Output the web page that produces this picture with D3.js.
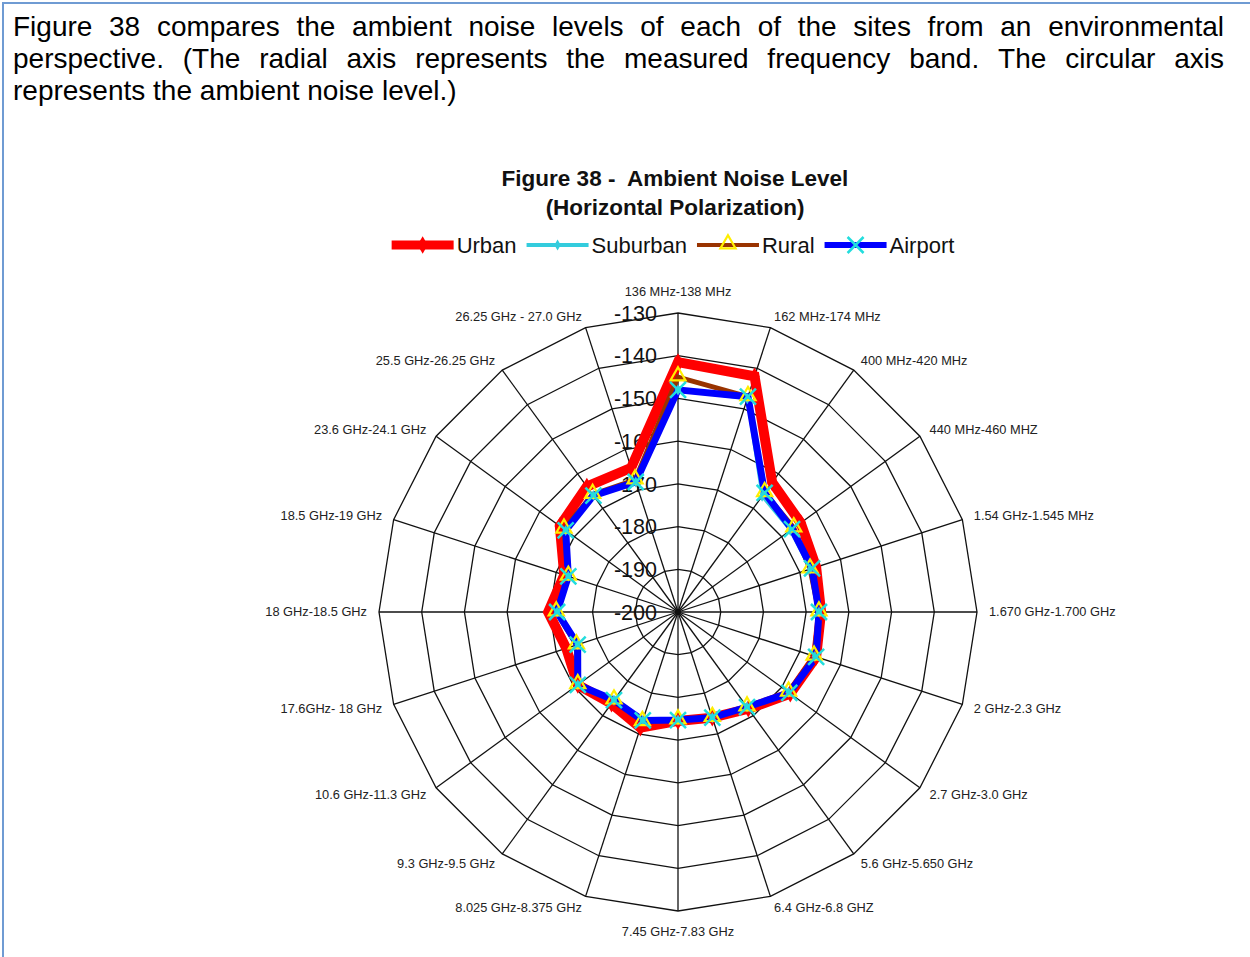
<!DOCTYPE html>
<html>
<head>
<meta charset="utf-8">
<script src="https://cdn.jsdelivr.net/npm/d3@7"></script>
<style>
  body { margin: 0; background: #fff; }
  svg { display: block; font-family: "Liberation Sans", Arial, sans-serif; }
</style>
</head>
<body>
<div id="chart"></div>
<script>
// frequency bands, clockwise from the top
const categories = [
  "136 MHz-138 MHz", "162 MHz-174 MHz", "400 MHz-420 MHz", "440 MHz-460 MHZ",
  "1.54 GHz-1.545 MHz", "1.670 GHz-1.700 GHz", "2 GHz-2.3 GHz", "2.7 GHz-3.0 GHz",
  "5.6 GHz-5.650 GHz", "6.4 GHz-6.8 GHZ", "7.45 GHz-7.83 GHz", "8.025 GHz-8.375 GHz",
  "9.3 GHz-9.5 GHz", "10.6 GHz-11.3 GHz", "17.6GHz- 18 GHz", "18 GHz-18.5 GHz",
  "18.5 GHz-19 GHz", "23.6 GHz-24.1 GHz", "25.5 GHz-26.25 GHz", "26.25 GHz - 27.0 GHz"
]

const urban    = [-141.5, -142, -162.5, -164.5, -166, -166.5, -166, -167.5, -172, -174, -174.5, -171.5, -173.5, -171, -172.5, -169.6, -172, -165.8, -163.7, -164.5]
const suburban = [-148, -147.5, -166.5, -167.5, -167.5, -167, -166.3, -168, -172.5, -174, -174.7, -173.3, -174.5, -171, -175.3, -171.7, -173, -167.5, -166.3, -168]
const rural    = [-145, -147, -165.5, -166.5, -167.5, -167, -166.5, -168, -172.5, -174, -174.7, -173, -174.5, -171, -175, -171.5, -173, -167, -166, -167.5]
const airport  = [-148, -147, -165.5, -167, -167, -167, -166, -167.8, -172.5, -174, -174.7, -173.3, -174.5, -171, -175.3, -171.7, -173, -167.5, -166.3, -168]

const ringTicks = [-200, -190, -180, -170, -160, -150, -140, -130]

const paragraph = [
  "Figure 38 compares the ambient noise levels of each of the sites from an environmental",
  "perspective. (The radial axis represents the measured frequency band. The circular axis",
  "represents the ambient noise level.)"
]

const series = [
  { name: "Urban", values: urban, color: "#ff0000", width: 10, marker: "diamond" },
  { name: "Suburban", values: suburban, color: "#33ccdd", width: 3, marker: "smalldiamond" },
  { name: "Rural", values: rural, color: "#993300", width: 5, marker: "triangle" },
  { name: "Airport", values: airport, color: "#0000ff", width: 7, marker: "x" }
]

const width = 1250
const height = 957
const cx = 678
const cy = 612
const R = 299

const svg = d3.select('#chart').append('svg').attr('width', width).attr('height', height)

// page frame
svg.append('path')
  .attr('d', 'M3,' + height + ' V3 H' + width)
  .attr('fill', 'none')
  .attr('stroke', '#6f9bd3')
  .attr('stroke-width', 2)

// justified paragraph
const paraLeft = 13
const paraRight = 1224
const baselines = [36, 68, 100]
paragraph.forEach(function(line, li) {
  const words = line.split(' ')
  const nodes = words.map(function(w) {
    return svg.append('text')
      .attr('y', baselines[li])
      .attr('font-size', '28px')
      .attr('fill', '#000')
      .text(w)
  })
  const widths = nodes.map(function(n) { return n.node().getComputedTextLength() })
  const total = d3.sum(widths)
  let gap = 7.8
  if (li < paragraph.length - 1) {
    gap = (paraRight - paraLeft - total) / (words.length - 1)
  }
  let x = paraLeft
  nodes.forEach(function(n, i) {
    n.attr('x', x)
    x += widths[i] + gap
  })
})

// chart titles
svg.append('text')
  .attr('x', 675).attr('y', 186)
  .attr('text-anchor', 'middle')
  .attr('font-size', '22.5px').attr('font-weight', 'bold')
  .attr('fill', '#111')
  .style('white-space', 'pre')
  .text('Figure 38 -  Ambient Noise Level')
svg.append('text')
  .attr('x', 675).attr('y', 215)
  .attr('text-anchor', 'middle')
  .attr('font-size', '22.5px').attr('font-weight', 'bold')
  .attr('fill', '#111')
  .text('(Horizontal Polarization)')

// scales
const rScale = d3.scaleLinear().domain([-200, -130]).range([0, R])
const aScale = d3.scaleLinear().domain([0, categories.length]).range([0, 2 * Math.PI])

function point(i, v) {
  const a = aScale(i)
  const r = rScale(v)
  return [cx + r * Math.sin(a), cy - r * Math.cos(a)]
}

const grid = svg.append('g').attr('class', 'grid')

// ring polygons
ringTicks.slice(1).forEach(function(t) {
  const pts = categories.map(function(c, i) { return point(i, t) })
  grid.append('polygon')
    .attr('points', pts.map(function(p) { return p.join(',') }).join(' '))
    .attr('fill', 'none')
    .attr('stroke', '#111')
    .attr('stroke-width', 1.3)
})

// spokes
categories.forEach(function(c, i) {
  const p = point(i, -130)
  grid.append('line')
    .attr('x1', cx).attr('y1', cy)
    .attr('x2', p[0]).attr('y2', p[1])
    .attr('stroke', '#111')
    .attr('stroke-width', 1.3)
})

// category labels
categories.forEach(function(c, i) {
  const a = aScale(i)
  const s = Math.sin(a)
  const co = Math.cos(a)
  const r = R + 12
  let x = cx + r * s
  let y = cy - r * co
  let anchor = 'middle'
  if (s > 0.01) anchor = 'start'
  if (s < -0.01) anchor = 'end'
  if (Math.abs(s) < 0.01) y -= co * 9
  svg.append('text')
    .attr('x', x).attr('y', y)
    .attr('dy', '0.35em')
    .attr('text-anchor', anchor)
    .attr('font-size', '12.8px')
    .attr('fill', '#222')
    .style('white-space', 'pre')
    .text(c)
})

// ring tick labels along the top spoke
ringTicks.forEach(function(t) {
  svg.append('text')
    .attr('x', cx - 21)
    .attr('y', cy - rScale(t))
    .attr('dy', '0.36em')
    .attr('text-anchor', 'end')
    .attr('font-size', '21.5px')
    .attr('fill', '#111')
    .text(t)
})

function drawMarker(g, type, x, y) {
  if (type === 'diamond') {
    g.append('path')
      .attr('d', d3.symbol().type(d3.symbolDiamond).size(90)())
      .attr('transform', 'translate(' + x + ',' + y + ')')
      .attr('fill', '#ff0000')
  } else if (type === 'smalldiamond') {
    g.append('path')
      .attr('d', d3.symbol().type(d3.symbolDiamond).size(35)())
      .attr('transform', 'translate(' + x + ',' + y + ')')
      .attr('fill', '#33ccdd')
  } else if (type === 'triangle') {
    g.append('path')
      .attr('d', d3.symbol().type(d3.symbolTriangle).size(100)())
      .attr('transform', 'translate(' + x + ',' + (y - 1) + ')')
      .attr('fill', 'none')
      .attr('stroke', '#ffee00')
      .attr('stroke-width', 2.2)
  } else if (type === 'x') {
    g.append('path')
      .attr('d', 'M-8,-8L8,8M-8,8L8,-8')
      .attr('transform', 'translate(' + x + ',' + y + ')')
      .attr('stroke', '#22dddd')
      .attr('stroke-width', 2.5)
  }
}

const lineRadial = d3.lineRadial()
  .angle(function(d, i) { return aScale(i) })
  .radius(function(d) { return rScale(d) })
  .curve(d3.curveLinearClosed)

const plot = svg.append('g').attr('transform', 'translate(' + cx + ',' + cy + ')')

series.forEach(function(s) {
  plot.append('path')
    .datum(s.values)
    .attr('d', lineRadial)
    .attr('fill', 'none')
    .attr('stroke', s.color)
    .attr('stroke-width', s.width)
    .attr('stroke-linejoin', 'miter')
})
const markers = svg.append('g')
series.forEach(function(s) {
  s.values.forEach(function(v, i) {
    const p = point(i, v)
    drawMarker(markers, s.marker, p[0], p[1])
  })
})

// dark hub in the middle
svg.append('circle').attr('cx', cx).attr('cy', cy).attr('r', 3).attr('fill', '#111')

// legend
const legend = svg.append('g')
let lx = 0
series.forEach(function(s) {
  const item = legend.append('g').attr('transform', 'translate(' + lx + ',0)')
  item.append('line')
    .attr('x1', 0).attr('x2', 62)
    .attr('y1', 0).attr('y2', 0)
    .attr('stroke', s.color)
    .attr('stroke-width', Math.max(s.width - 1, 4))
  drawMarker(item, s.marker, 31, 0)
  const t = item.append('text')
    .attr('x', 65).attr('y', 0)
    .attr('dy', '0.35em')
    .attr('font-size', '22px')
    .attr('fill', '#111')
    .text(s.name)
  lx += 65 + t.node().getComputedTextLength() + 10
})
lx -= 10
legend.attr('transform', 'translate(' + (673 - lx / 2) + ',245)')
</script>
</body>
</html>
